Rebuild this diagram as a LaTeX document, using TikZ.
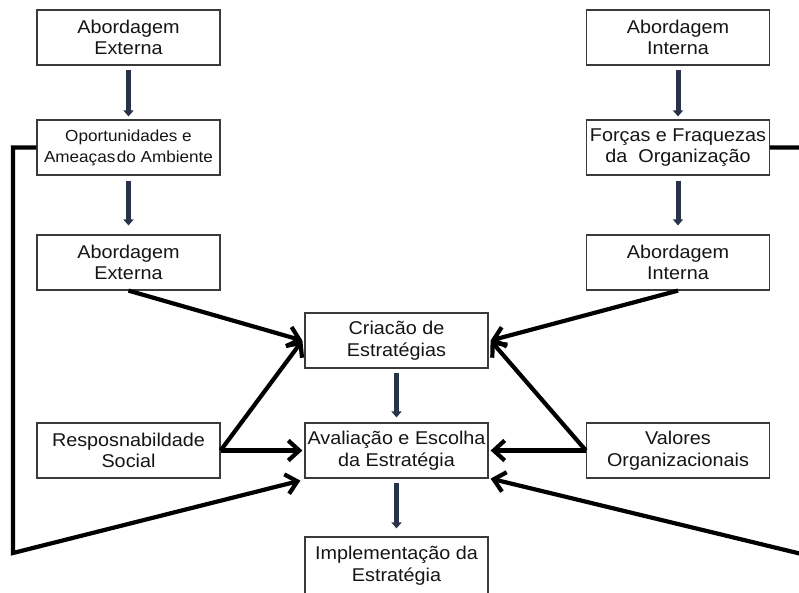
\documentclass[tikz,border=0pt]{standalone}
\usepackage{fontspec}
\setmainfont{Liberation Sans}[FakeStretch=1.07]
\usetikzlibrary{arrows.meta}
\definecolor{boxline}{HTML}{3A3A3A}
\definecolor{txt}{HTML}{151515}
\definecolor{blk}{HTML}{28324B}
\begin{document}
\begin{tikzpicture}[x=1pt,y=-1pt,
  box/.style={draw=boxline, line width=1.2pt, fill=white, text=txt,
    minimum width=183pt, minimum height=55pt, inner sep=0pt, align=center,
    font=\fontsize{18.5}{21.5}\selectfont},
  vblock/.style={line width=5pt, draw=blk, -{Triangle[length=6pt,width=10pt]}},
  conn/.style={line width=4.2pt, draw=black, -{Straight Barb[length=11pt,width=20pt]}}]
\useasboundingbox (0,0) rectangle (799,592);
\clip (0,0) rectangle (799,592);
\fill[white] (0,0) rectangle (799,592);
% nodes
\node[box] (ae1) at (128.5,37.5) {Abordagem\\Externa};
\node[box, font=\fontsize{16}{21}\selectfont] (oa) at (128.5,147.5) {Oportunidades e\\Ameaças\hspace{1.5pt}do Ambiente};
\node[box] (ae2) at (128.5,262.5) {Abordagem\\Externa};
\node[box] (ai1) at (678,37.5) {Abordagem\\Interna};
\node[box] (ff) at (678,147.5) {Forças e Fraquezas\\da\ \ Organização};
\node[box] (ai2) at (678,262.5) {Abordagem\\Interna};
\node[box] (ce) at (396.5,340.5) {Criacão de\\Estratégias};
\node[box] (av) at (396.5,450.5) {Avaliação e Escolha\\da Estratégia};
\node[box, minimum height=57pt] (im) at (396.5,565.5) {Implementação da\\Estratégia};
\node[box] (rs) at (128.5,450.5) {Resposnabildade\\Social};
\node[box] (vo) at (678,450.5) {Valores\\Organizacionais};
% vertical block arrows
\draw[vblock] ([yshift=-4pt]ae1.south) -- ([yshift=3pt]oa.north);
\draw[vblock] ([yshift=-5pt]oa.south) -- ([yshift=9pt]ae2.north);
\draw[vblock] ([yshift=-4pt]ai1.south) -- ([yshift=3pt]ff.north);
\draw[vblock] ([yshift=-5pt]ff.south) -- ([yshift=9pt]ai2.north);
\draw[vblock] ([yshift=-4pt]ce.south) -- ([yshift=5pt]av.north);
\draw[vblock] ([yshift=-4pt]av.south) -- ([yshift=8pt]im.north);
% connectors
\draw[conn] (ae2.south) -- ([xshift=-2pt]ce.west);
\draw[conn] (rs.east) -- ([xshift=-2pt]ce.west);
\draw[conn] (rs.east) -- ([xshift=-2pt]av.west);
\draw[conn] (ai2.south) -- ([xshift=2pt]ce.east);
\draw[conn] (vo.west) -- ([xshift=2pt]ce.east);
\draw[conn] (vo.west) -- ([xshift=2pt]av.east);
% feedback loops
\coordinate (lc1) at (13,147.5);
\coordinate (lc2) at (13,553);
\coordinate (rc1) at (812,147.5);
\coordinate (rc2) at (812,556.5);
\draw[conn] (oa.west) -- (lc1) -- (lc2) -- ([xshift=-4pt,yshift=-2pt]av.south west);
\draw[conn] (ff.east) -- (rc1) -- (rc2) -- ([xshift=2pt]av.south east);
\end{tikzpicture}
\end{document}
